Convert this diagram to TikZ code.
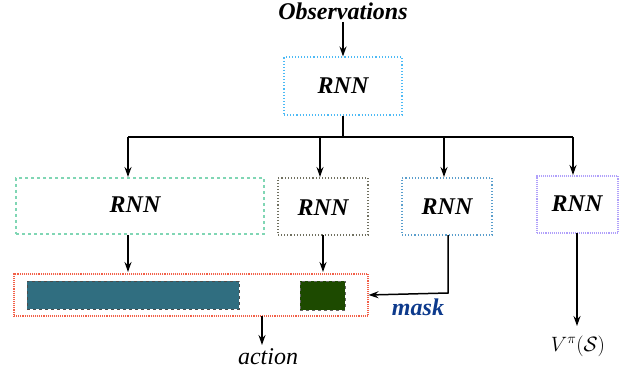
\documentclass[tikz,border=0pt]{standalone}
\usepackage{fontspec}
\setmainfont{Liberation Serif}
\usetikzlibrary{arrows.meta}
\definecolor{cTop}{HTML}{4DBAF5}
\definecolor{cOne}{HTML}{80D6B4}
\definecolor{cTwo}{HTML}{707060}
\definecolor{cThree}{HTML}{5A9ECC}
\definecolor{cFour}{HTML}{B0A0FA}
\definecolor{cRed}{HTML}{F26048}
\definecolor{cTeal}{HTML}{306E80}
\definecolor{cGreen}{HTML}{1D4A00}
\definecolor{cMask}{HTML}{0D3A8C}
\tikzset{
  box/.style={draw, line width=1.1pt},
  lbl/.style={font=\fontsize{24}{26}\selectfont\bfseries\itshape},
  arr/.style={line width=1.5pt, -{Stealth[length=10pt,width=7pt,inset=3.5pt]}},
  ln/.style={line width=1.5pt}
}
\begin{document}
\begin{tikzpicture}[x=1pt,y=-1pt]
\useasboundingbox (0,0) rectangle (627,377);
% boxes
\node[box, cTop, dotted, minimum width=118pt, minimum height=58pt] (top) at (343,86) {};
\node[lbl] at (top) {RNN};
\node[box, cOne, dashed, minimum width=248pt, minimum height=56pt] (b1) at (140,206) {};
\node[lbl] at (135,205) {RNN};
\node[box, cTwo, dotted, minimum width=90pt, minimum height=57pt] (b2) at (323,206.5) {};
\node[lbl] at (323,208) {RNN};
\node[box, cThree, dotted, minimum width=90pt, minimum height=57pt] (b3) at (447,206.5) {};
\node[lbl] at (447,207) {RNN};
\node[box, cFour, densely dotted, minimum width=81pt, minimum height=57pt] (b4) at (577.5,204.5) {};
\node[lbl] at (577,204) {RNN};
\node[box, cRed, densely dotted, minimum width=354pt, minimum height=42pt] (out) at (191,295) {};
\node[draw=black!70, dashed, line width=0.9pt, fill=cTeal, minimum width=212pt, minimum height=28pt, inner sep=0pt] (bar) at (133,295) {};
\node[draw=black!60, dashed, line width=0.9pt, fill=cGreen, minimum width=45pt, minimum height=29pt, inner sep=0pt] (sq) at (322.5,295.5) {};
% texts
\node[lbl] (obs) at (343,11) {Observations};
\node[lbl, text=cMask] (mask) at (418,307) {mask};
\node[font=\fontsize{24}{26}\selectfont\itshape] (act) at (268,357) {action};
\node[font=\fontsize{21}{23}\selectfont] (val) at (578,346) {$V^{\pi}(\mathcal{S})$};
% coordinates
\coordinate (split) at (343,137);
\coordinate (l1) at (128,137);
\coordinate (l4) at (573,137);
\coordinate (m3) at (448,293);
% connectors
\draw[arr] (343,22) -- (top.north);
\draw[ln] (top.south) -- (split);
\draw[ln] (l1) -- (l4);
\draw[arr] (l1) -- (128,177);
\draw[arr] (320,137) -- (320,177);
\draw[arr] (444,137) -- (444,177);
\draw[arr] (l4) -- (573,175);
\draw[arr] (128,235) -- (128,272);
\draw[arr] (323,235) -- (323,272);
\draw[arr] (448,235) -- (m3) -- (out.east);
\draw[arr] (262,316) -- (262,345);
\draw[arr] (577,233) -- (577,326);
\end{tikzpicture}
\end{document}
